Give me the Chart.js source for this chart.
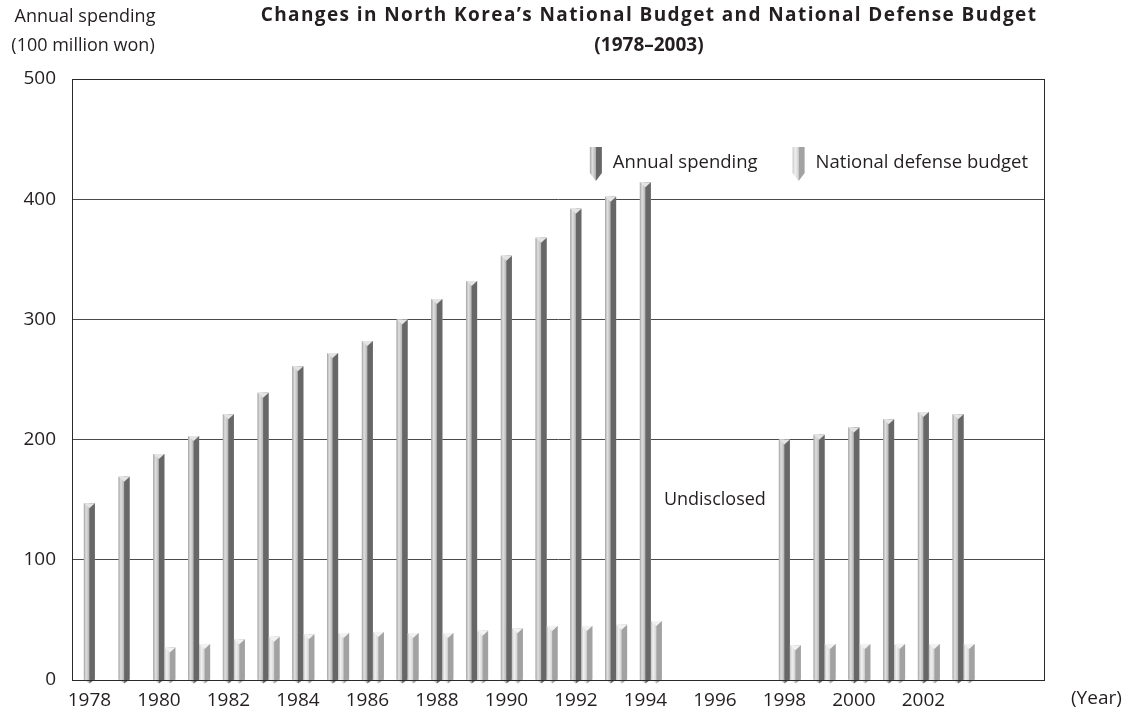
<!DOCTYPE html>
<html>
<head>
<meta charset="utf-8">
<script src="https://cdn.jsdelivr.net/npm/chart.js@4.4.1/dist/chart.umd.min.js"></script>
<style>
    html, body { margin: 0; padding: 0; background: #ffffff; }
    #wrap { position: relative; width: 1128px; height: 713px; }
</style>
</head>
<body>
<div id="wrap"><canvas id="budgetChart"></canvas></div>
<script>
// ==========================================
// DATA
// ==========================================

const years = [
    "1978", "1979", "1980", "1981", "1982", "1983", "1984", "1985", "1986", "1987",
    "1988", "1989", "1990", "1991", "1992", "1993", "1994", "1995", "1996", "1997",
    "1998", "1999", "2000", "2001", "2002", "2003", "2004", "2005"
];

const tickYears = [
    "1978", "1980", "1982", "1984", "1986", "1988", "1990",
    "1992", "1994", "1996", "1998", "2000", "2002"
];

const annualSpending = [
    147, 169, 188, 203, 221, 239, 261, 272, 282, 300,
    317, 332, 353, 368, 392, 402, 414, null, null, null,
    200, 204, 210, 217, 223, 221, null, null
];

const defenseBudget = [
    null, null, 27, 30, 34, 36, 38, 39, 40, 39,
    39, 41, 43, 45, 45, 46, 49, null, null, null,
    29, 30, 30, 30, 30, 30, null, null
];

const yTicks = [0, 100, 200, 300, 400, 500];

const seriesNames = ["Annual spending", "National defense budget"];

// ==========================================
// LOOKS
// ==========================================

const textColor = "#231f20";
const fontFamily = "'Open Sans', 'Noto Sans', sans-serif";

const faceStyles = {
    1: { light: ["#a3a3a3", "#e0e0e0", "#b3b3b3"], dark: "#676767", cap: "#e4e4e4" },
    2: { light: ["#c4c4c4", "#f0f0f0", "#d2d2d2"], dark: "#a2a2a2", cap: "#f2f2f2" }
};

Chart.defaults.font.family = fontFamily;
Chart.defaults.color = textColor;

// draws the two-tone prism faces on top of each bar
function paintPrism(ctx, l, r, top, bottom, style, tip) {
    const mid = (l + r) / 2;
    const grad = ctx.createLinearGradient(l, 0, mid, 0);
    grad.addColorStop(0, style.light[0]);
    grad.addColorStop(0.4, style.light[1]);
    grad.addColorStop(1, style.light[2]);

    ctx.fillStyle = grad;
    ctx.beginPath();
    ctx.moveTo(l, top);
    ctx.lineTo(mid, top);
    ctx.lineTo(mid, bottom + tip);
    ctx.lineTo(l, bottom);
    ctx.closePath();
    ctx.fill();

    ctx.fillStyle = style.dark;
    ctx.beginPath();
    ctx.moveTo(mid, top);
    ctx.lineTo(r, top);
    ctx.lineTo(r, bottom);
    ctx.lineTo(mid, bottom + tip);
    ctx.closePath();
    ctx.fill();
}

const prismBars = {
    id: "prismBars",
    afterDatasetsDraw(chart) {
        const ctx = chart.ctx;
        ctx.save();
        [1, 2].forEach(function (di) {
            const meta = chart.getDatasetMeta(di);
            const values = chart.data.datasets[di].data;
            meta.data.forEach(function (bar, i) {
                if (values[i] === null) return;
                const p = bar.getProps(["x", "y", "base", "width"], true);
                const l = p.x - p.width / 2;
                const r = p.x + p.width / 2;
                const style = faceStyles[di];

                paintPrism(ctx, l, r, p.y, p.base, style, 4);

                // top cap
                ctx.fillStyle = style.cap;
                ctx.beginPath();
                ctx.moveTo(l, p.y);
                ctx.lineTo(r, p.y);
                ctx.lineTo(p.x, p.y + 5);
                ctx.closePath();
                ctx.fill();
            });
        });
        ctx.restore();
    }
};

const frameAndText = {
    id: "frameAndText",
    afterDraw(chart) {
        const ctx = chart.ctx;
        const area = chart.chartArea;
        const xScale = chart.scales.x;
        const yScale = chart.scales.y;

        ctx.save();

        // plot frame
        ctx.strokeStyle = "#2a2a2a";
        ctx.lineWidth = 1;
        ctx.strokeRect(Math.round(area.left) + 0.5, Math.round(area.top) + 0.5,
            Math.round(area.right - area.left) - 1, Math.round(area.bottom - area.top));

        ctx.fillStyle = textColor;
        ctx.textBaseline = "middle";

        // title
        ctx.textAlign = "center";
        ctx.font = "bold 19px " + fontFamily;
        ctx.letterSpacing = "1.4px";
        ctx.fillText("Changes in North Korea\u2019s National Budget and National Defense Budget", 649, 16);
        ctx.letterSpacing = "0px";
        ctx.fillText("(1978\u20132003)", 649, 46);

        // y axis title
        ctx.font = "18px " + fontFamily;
        ctx.fillText("Annual spending", 85, 17);
        ctx.fillText("(100 million won)", 83, 46);

        // x axis unit
        ctx.font = "19px " + fontFamily;
        ctx.textAlign = "left";
        ctx.fillText("(Year)", area.right + 26, 699);

        // undisclosed note
        ctx.textAlign = "center";
        ctx.font = "18px " + fontFamily;
        ctx.fillText("Undisclosed", xScale.getPixelForValue(years.indexOf("1996")), yScale.getPixelForValue(150));

        // legend
        ctx.font = "18.5px " + fontFamily;
        ctx.textAlign = "left";
        const legendY = 163;
        let cursor = area.right - 17;
        for (let k = seriesNames.length - 1; k >= 0; k--) {
            const w = ctx.measureText(seriesNames[k]).width;
            cursor -= w;
            ctx.fillStyle = textColor;
            ctx.fillText(seriesNames[k], cursor, legendY);
            const iconR = cursor - 11;
            const iconL = iconR - 12;
            paintPrism(ctx, iconL, iconR, legendY - 16, legendY + 10, faceStyles[k + 1], 8);
            cursor = iconL - 35;
        }

        ctx.restore();
    }
};

// ==========================================
// CHART
// ==========================================

const canvas = document.getElementById("budgetChart");

new Chart(canvas, {

    type: "bar",

    data: {

        labels: years,

        datasets: [

            {
                // empty slot so spending bar sits on the year tick
                label: "",
                data: years.map(function () { return null; }),
                backgroundColor: "rgba(0,0,0,0)",
            },

            {
                label: seriesNames[0],
                data: annualSpending,
                backgroundColor: "#b0b0b0",
                borderWidth: 0,
            },

            {
                label: seriesNames[1],
                data: defenseBudget,
                backgroundColor: "#d6d6d6",
                borderWidth: 0,
            }

        ]

    },

    options: {

        responsive: true,

        maintainAspectRatio: false,

        animation: false,

        categoryPercentage: 0.95,

        barPercentage: 1.0,

        layout: {
            padding: { top: 79, right: 83, bottom: 0, left: 0 }
        },

        plugins: {
            legend: { display: false },
            tooltip: { enabled: false },
            title: { display: false }
        },

        scales: {

            x: {
                grid: { display: false, drawTicks: false },
                border: { display: false },
                ticks: {
                    autoSkip: false,
                    maxRotation: 0,
                    padding: 9,
                    font: { size: 19 },
                    color: textColor,
                    callback: function (value) {
                        const label = this.getLabelForValue(value);
                        return tickYears.includes(label) ? label : "";
                    }
                },
                afterFit: function (axis) {
                    axis.height = 33;
                }
            },

            y: {
                min: yTicks[0],
                max: yTicks[yTicks.length - 1],
                grid: {
                    color: "#4a4a4a",
                    lineWidth: 1,
                    drawTicks: false
                },
                border: { display: false },
                ticks: {
                    stepSize: yTicks[1] - yTicks[0],
                    padding: 16,
                    font: { size: 19 },
                    color: textColor
                },
                afterFit: function (axis) {
                    axis.width = 72;
                }
            }

        }

    },

    plugins: [prismBars, frameAndText]

});
</script>
</body>
</html>
